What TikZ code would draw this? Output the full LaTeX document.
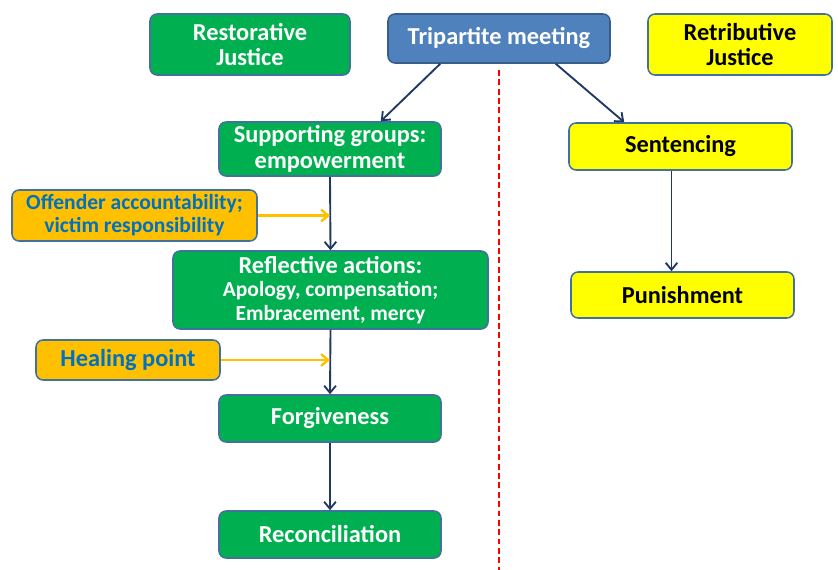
\documentclass[tikz,border=0pt]{standalone}
\usepackage{fontspec}
\setmainfont{Carlito}
\usepackage{xcolor}
\usepackage{tikz}
\usetikzlibrary{arrows.meta,shapes,calc}
\definecolor{rjgreen}{HTML}{00B050}
\definecolor{tmblue}{HTML}{4F81BD}
\definecolor{tmedge}{HTML}{385D8A}
\definecolor{bxedge}{HTML}{41719C}
\definecolor{rtyellow}{HTML}{FFFF00}
\definecolor{ptorange}{HTML}{FFC000}
\definecolor{pttext}{HTML}{0070C0}
\definecolor{arrblue}{HTML}{1F3864}
\newcommand{\bigtxt}{\bfseries\fontsize{20.8}{22}\selectfont}
\newcommand{\smalltxt}{\bfseries\fontsize{18.4}{19.8}\selectfont}
\tikzset{
  box/.style={draw=bxedge,line width=1.3pt,rounded corners=6pt,align=center,
    font=\bigtxt,inner sep=0pt},
  greenbox/.style={box,fill=rjgreen,text=white},
  yellowbox/.style={box,fill=rtyellow,text=black},
  orangebox/.style={box,fill=ptorange,text=pttext},
  flow/.style={-{Straight Barb[length=6pt,width=10pt]},arrblue,line width=1.6pt},
  hint/.style={-{Straight Barb[length=6pt,width=10pt]},ptorange,line width=2pt}
}
\begin{document}
\begin{tikzpicture}[x=0.03cm,y=-0.03cm]
\useasboundingbox (0,0) rectangle (838,570);
% top row
\node[greenbox,minimum width=200*0.03cm,minimum height=61*0.03cm]
  (rest) at (250,44.5) {Restorative\\Justice};
\node[box,fill=tmblue,draw=tmedge,text=white,minimum width=222*0.03cm,minimum height=49*0.03cm]
  (tri) at (499,38.5) {Tripartite meeting};
\node[yellowbox,minimum width=184*0.03cm,minimum height=61*0.03cm]
  (retr) at (740,44.5) {Retributive\\Justice};
% restorative side
\node[greenbox,minimum width=222*0.03cm,minimum height=54*0.03cm]
  (supp) at (330,149) {Supporting groups:\\empowerment};
\node[orangebox,minimum width=245*0.03cm,minimum height=51*0.03cm,font=\smalltxt]
  (acc) at (134.5,215.5) {Offender accountability;\\victim responsibility};
\node[greenbox,minimum width=315*0.03cm,minimum height=78*0.03cm,font=\smalltxt]
  (refl) at (330.5,290) {{\bigtxt Reflective actions:}\\Apology, compensation;\\Embracement, mercy};
\node[orangebox,minimum width=184*0.03cm,minimum height=40*0.03cm]
  (heal) at (128,360) {Healing point};
\node[greenbox,minimum width=222*0.03cm,minimum height=47*0.03cm]
  (forg) at (330,418.5) {Forgiveness};
\node[greenbox,minimum width=222*0.03cm,minimum height=47*0.03cm]
  (reco) at (330,534.5) {Reconciliation};
% retributive side
\node[yellowbox,minimum width=223*0.03cm,minimum height=47*0.03cm]
  (sent) at (680.5,146.5) {Sentencing};
\node[yellowbox,minimum width=223*0.03cm,minimum height=46*0.03cm]
  (puni) at (682.5,295) {Punishment};
% divider
\coordinate (divtop) at (499,70);
\coordinate (divbot) at (499,570);
\draw[red,line width=1.6pt,dash pattern=on 5pt off 3pt] (divtop)--(divbot);
% connectors
\draw[flow] ($(tri.south west)+(53,0)$) -- ($(supp.north east)+(-61,0)$);
\draw[flow] ($(tri.south east)+(-55,0)$) -- ($(sent.north west)+(56,0)$);
\draw[flow] (supp.south) -- (refl.north);
\draw[flow] (refl.south) -- (forg.north);
\draw[flow] (forg.south) -- (reco.north);
\draw[flow] ($(sent.south)+(-9,0)$) -- ($(puni.north)+(-11,0)$);
\coordinate (accend) at (330,215.5);
\coordinate (healend) at (330,360);
\draw[hint] (acc.east) -- (accend);
\draw[hint] (heal.east) -- (healend);
\end{tikzpicture}
\end{document}
